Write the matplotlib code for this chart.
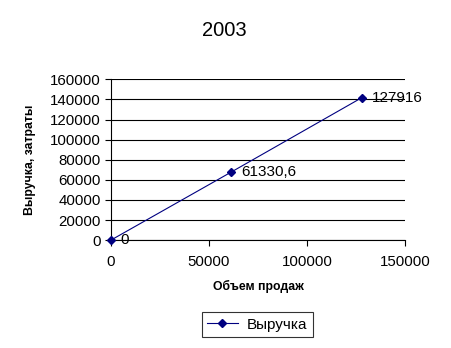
import matplotlib.pyplot as plt

plt.rcParams['font.family'] = ['Liberation Sans', 'DejaVu Sans']

volume = [0, 61330.6, 127916]
revenue = [0, 67700, 141700]
point_labels = ["0", "61330,6", "127916"]
x_ticks = [0, 50000, 100000, 150000]
y_ticks = [0, 20000, 40000, 60000, 80000, 100000, 120000, 140000, 160000]

fig = plt.figure(figsize=(4.51, 3.48), dpi=100)
ax = fig.add_axes([0.246, 0.310, 0.652, 0.462])

ax.plot(volume, revenue, color="#000080", lw=0.8, marker="D", ms=4,
        label="Выручка", clip_on=False, zorder=3)
for x, y, t in zip(volume, revenue, point_labels):
    ax.annotate(t, (x, y), xytext=(7, 0), textcoords="offset points",
                va="center", ha="left", fontsize=11)

ax.set_xlim(0, 150000)
ax.set_ylim(0, 160000)
ax.set_xticks(x_ticks)
ax.set_yticks(y_ticks)
ax.tick_params(labelsize=10.8, length=4, width=0.8, direction="out")
ax.tick_params(axis="x", pad=7)
ax.yaxis.grid(True, color="black", lw=0.8)
ax.set_axisbelow(True)
for s in ["top", "right"]:
    ax.spines[s].set_visible(False)
ax.spines["bottom"].set_linewidth(0.8)
ax.spines["left"].set_linewidth(0.8)

ax.set_xlabel("Объем продаж", fontsize=8.8, fontweight="bold")
ax.set_ylabel("Выручка, затраты", fontsize=8.8, fontweight="bold")
ax.xaxis.set_label_coords(0.5, -0.245)
ax.yaxis.set_label_coords(-0.255, 0.5)
fig.text(0.497, 0.912, "2003", ha="center", va="center", fontsize=14.5)

leg = fig.legend(loc="center", bbox_to_anchor=(0.570, 0.0675), fontsize=11,
                 frameon=True, fancybox=False, edgecolor="black",
                 handlelength=2.0, handletextpad=0.6, borderpad=0.35,
                 borderaxespad=0)
leg.get_frame().set_linewidth(0.8)

fig.savefig("out.png", dpi=100)
